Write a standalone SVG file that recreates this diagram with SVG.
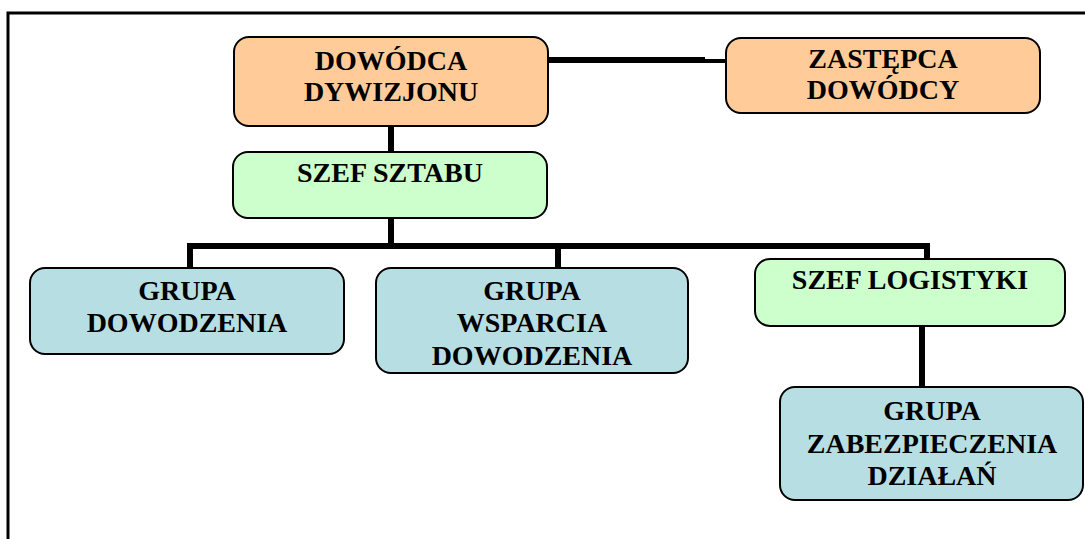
<svg xmlns="http://www.w3.org/2000/svg" width="1085" height="539" viewBox="0 0 1085 539">
<style>
.box{stroke:#000;stroke-width:2}
.o{fill:#FFCC99}
.g{fill:#CCFFCC}
.b{fill:#B7DFE3}
.t{font-family:"Liberation Serif","Times New Roman",serif;font-weight:bold;font-size:28px;fill:#000;text-anchor:middle}
.c{stroke:#000;stroke-width:6;fill:none}
</style>
<rect x="0" y="0" width="1085" height="539" fill="#fff"/>
<rect x="8" y="13" width="1100" height="600" fill="none" stroke="#000" stroke-width="3"/>
<g id="connectors">
<line class="c" x1="548" y1="60" x2="705" y2="60"/>
<line x1="704" y1="61" x2="727" y2="61" stroke="#000" stroke-width="4"/>
<line class="c" x1="391" y1="126" x2="391" y2="152"/>
<polyline class="c" points="391,218 391,246"/>
<polyline class="c" points="190,268 190,246 927,246 927,259"/>
<line class="c" x1="558" y1="246" x2="558" y2="268"/>
<line class="c" x1="922" y1="326" x2="922" y2="387"/>
</g>
<g id="dowodca">
<rect class="box o" x="234" y="37" width="314" height="89" rx="15"/>
<text class="t" x="391" y="70">DOWÓDCA</text>
<text class="t" x="391" y="101">DYWIZJONU</text>
</g>
<g id="zastepca">
<rect class="box o" x="726" y="38" width="314" height="75" rx="15"/>
<text class="t" x="883" y="68">ZASTĘPCA</text>
<text class="t" x="883" y="99">DOWÓDCY</text>
</g>
<g id="szef-sztabu">
<rect class="box g" x="233" y="152" width="314" height="66" rx="15"/>
<text class="t" x="390" y="182">SZEF SZTABU</text>
</g>
<g id="grupa-dowodzenia">
<rect class="box b" x="30" y="268" width="314" height="86" rx="15"/>
<text class="t" x="187" y="300">GRUPA</text>
<text class="t" x="187" y="332">DOWODZENIA</text>
</g>
<g id="grupa-wsparcia">
<rect class="box b" x="376" y="268" width="312" height="105" rx="15"/>
<text class="t" x="532" y="300">GRUPA</text>
<text class="t" x="532" y="332">WSPARCIA</text>
<text class="t" x="532" y="365">DOWODZENIA</text>
</g>
<g id="szef-logistyki">
<rect class="box g" x="755" y="259" width="310" height="67" rx="15"/>
<text class="t" x="910" y="289">SZEF LOGISTYKI</text>
</g>
<g id="grupa-zabezpieczenia">
<rect class="box b" x="780" y="387" width="303" height="113" rx="15"/>
<text class="t" x="932" y="420">GRUPA</text>
<text class="t" x="932" y="453">ZABEZPIECZENIA</text>
<text class="t" x="932" y="485">DZIAŁAŃ</text>
</g>
</svg>
